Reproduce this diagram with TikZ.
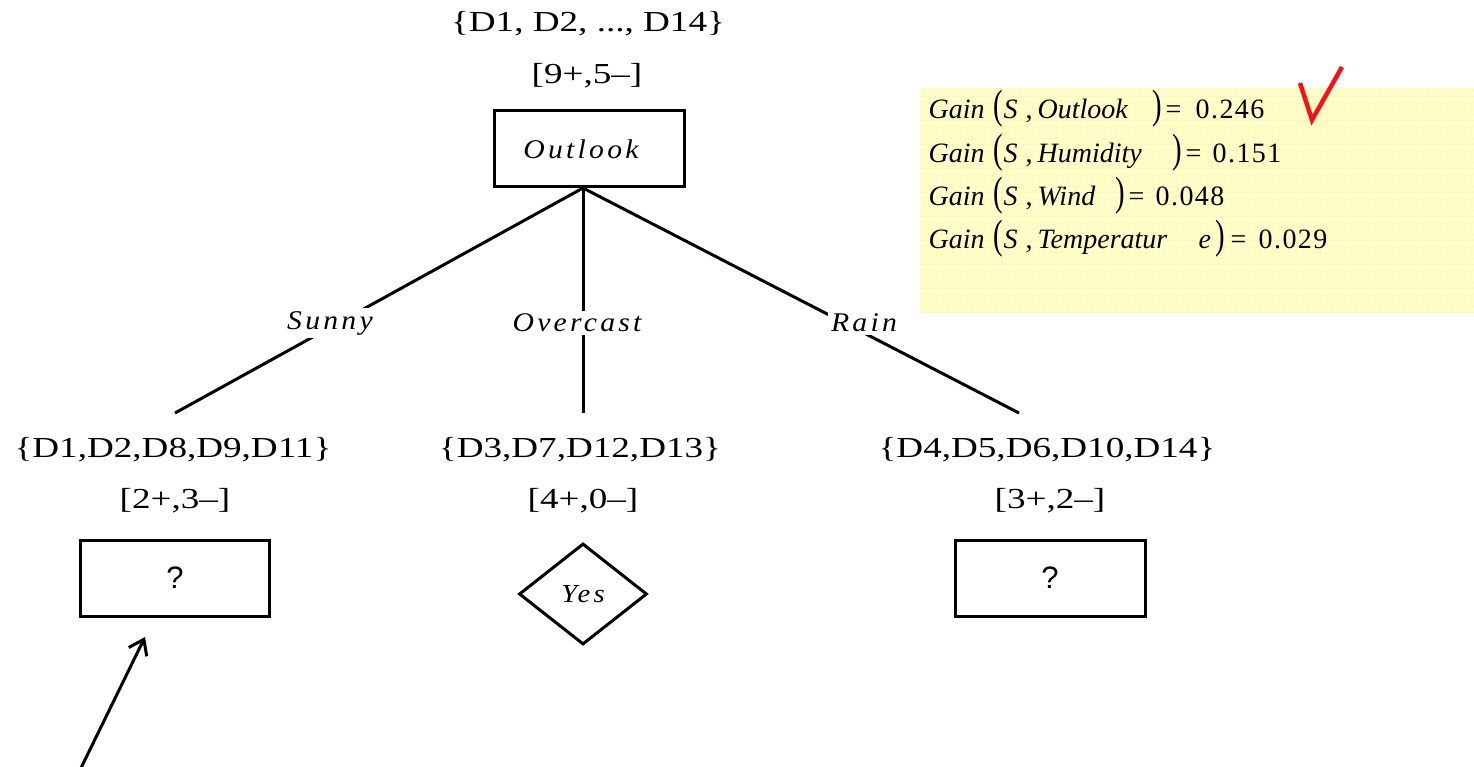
\documentclass[tikz,border=0pt]{standalone}
\usepackage{graphicx}
\usepackage{fontspec}
\setmainfont{Liberation Serif}
\newfontfamily\wideserif[FakeStretch=1.28]{Liberation Serif}
\newfontfamily\lblserif[FakeStretch=1.1,LetterSpace=12]{Liberation Serif}
\newfontfamily\numserif[LetterSpace=5]{Liberation Serif}
\newfontfamily\qsans{Liberation Sans}
\usetikzlibrary{shapes.geometric,arrows.meta}
\definecolor{gainbg}{RGB}{255,255,206}
\definecolor{gaingrid}{RGB}{252,249,185}
\definecolor{checkred}{RGB}{240,20,20}
\tikzset{
  settxt/.style={inner sep=0pt, font=\wideserif\fontsize{29}{29}\selectfont},
  branchlbl/.style={inner sep=3pt, fill=white, font=\lblserif\itshape\fontsize{27}{27}\selectfont},
  treebox/.style={draw, line width=3pt, inner sep=0pt},
  edge/.style={line width=3pt},
  gaintxt/.style={inner sep=0pt, anchor=base west, font=\fontsize{28}{28}\selectfont},
}
\newcommand{\pc}[2]{\makebox[0pt][l]{\hspace{#1pt}#2}}
\newcommand{\bigpar}[1]{\scalebox{0.7}[1]{\fontsize{41}{41}\selectfont #1}}
\newcommand{\gainline}[9]{%
  \pc{0}{\textit{Gain}}\pc{65}{\bigpar{(}}\pc{75}{\textit{S}}\pc{#1}{,}\pc{109}{\textit{#2}}%
  #3\pc{#4}{\bigpar{)}}\pc{#5}{=}\pc{#6}{\numserif #7}\hspace{#8pt}#9}
\begin{document}
\begin{tikzpicture}[x=1pt,y=-1pt]
\useasboundingbox (0,0) rectangle (1474,766);
% gain panel
\fill[gainbg] (920,88) rectangle (1474,313);
\draw[gaingrid, line width=0.5pt, step=6pt] (920,88) grid (1474,313);
\node[gaintxt] (g1) at (928,118) {\gainline{97}{Outlook}{}{224}{237}{267}{0.246}{340}{}};
\node[gaintxt] (g2) at (928,162) {\gainline{97}{Humidity}{}{244}{257}{284}{0.151}{355}{}};
\node[gaintxt] (g3) at (928,205) {\gainline{97}{Wind}{}{187}{200}{227}{0.048}{300}{}};
\node[gaintxt] (g4) at (928,248) {\gainline{97}{Temperatur}{\pc{270}{\textit{e}}}{287}{302}{330}{0.029}{400}{}};
\draw[checkred, line width=4.5pt, line join=miter] (1300,83) coordinate (ck1) -- (1312,120) coordinate (ck2) -- (1342,67) coordinate (ck3);
% root
\node[settxt] (rootset) at (588,24) {\{D1, D2, ..., D14\}};
\node[settxt] (rootcnt) at (587,76) {[9+,5–]};
\node[treebox, minimum width=190pt, minimum height=76pt] (outlook) at (589,148) {};
\node[font=\lblserif\itshape\fontsize{27}{27}\selectfont, inner sep=0pt] (outlooktxt) at (581,149) {Outlook};
\coordinate (root) at (583,188);
\coordinate (sunnyend) at (175,413);
\coordinate (overend) at (583,413);
\coordinate (rainend) at (1019,413);
\draw[edge] (root) -- (sunnyend);
\draw[edge] (root) -- (overend);
\draw[edge] (root) -- (rainend);
\node[branchlbl] (sunny) at (330,323) {Sunny};
\node[branchlbl] (overcast) at (577,323) {Overcast};
\node[branchlbl] (rain) at (864,323) {Rain};
% children
\node[settxt] (s1) at (173,450) {\{D1,D2,D8,D9,D11\}};
\node[settxt] (c1) at (175,501) {[2+,3–]};
\node[settxt] (s2) at (580,450) {\{D3,D7,D12,D13\}};
\node[settxt] (c2) at (583,501) {[4+,0–]};
\node[settxt] (s3) at (1047,450) {\{D4,D5,D6,D10,D14\}};
\node[settxt] (c3) at (1050,501) {[3+,2–]};
\node[treebox, minimum width=189pt, minimum height=76pt, font=\qsans\fontsize{31}{31}\selectfont] (q1) at (175,578) {?};
\node[treebox, minimum width=190pt, minimum height=76pt, font=\qsans\fontsize{31}{31}\selectfont] (q3) at (1050,578) {?};
\node[draw, diamond, line width=3pt, inner sep=0pt, minimum width=128pt, minimum height=101pt, font=\lblserif\itshape\fontsize{26}{26}\selectfont] (yes) at (583,594) {Yes};
% pointer arrow
\coordinate (arrtail) at (80,770);
\coordinate (arrtip) at (145,637);
\draw[line width=3pt, -{Straight Barb[length=14pt,width=20pt,line width=3pt]}] (arrtail) -- (arrtip);
\end{tikzpicture}
\end{document}
